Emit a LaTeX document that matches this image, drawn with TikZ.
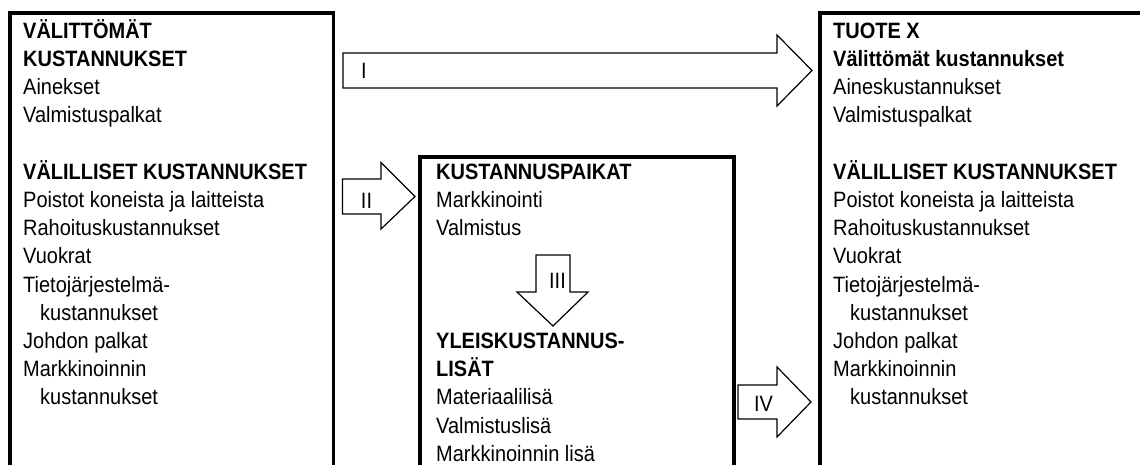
\documentclass[tikz,border=0pt]{standalone}
\usepackage{fontspec}
\setmainfont[FakeStretch=0.9]{Liberation Sans}
\newcommand{\lines}[1]{\begin{tabular}[t]{@{}l@{}}#1\end{tabular}}
\begin{document}
\begin{tikzpicture}[x=1pt,y=-1pt,
  boxline/.style={line width=3.5pt, line cap=butt, line join=miter},
  blockarrow/.style={draw, line width=1.2pt, fill=white, line join=miter},
  txt/.style={anchor=base west, inner sep=0pt, font=\fontsize{22.2}{28.2}\selectfont},
  lbl/.style={anchor=center, inner sep=0pt, font=\fontsize{22.2}{26}\selectfont}]
\useasboundingbox (0,0) rectangle (1140,464);
\clip (0,0) rectangle (1140,464);
\fill[white] (0,0) rectangle (1140,464);
% boxes (open at the bottom edge of the picture)
\draw[boxline] (10,480) -- (10,13) -- (333.5,13) -- (333.5,480);
\draw[boxline] (420,480) -- (420,157) -- (734,157) -- (734,480);
\draw[boxline] (820,480) -- (820,13) -- (1160,13);
% texts
\node[txt] (left) at (23,38.3) {\lines{\textbf{VÄLITTÖMÄT}\\ \textbf{KUSTANNUKSET}\\ Ainekset\\ Valmistuspalkat\\[28.2pt]
 \textbf{VÄLILLISET KUSTANNUKSET}\\ Poistot koneista ja laitteista\\ Rahoituskustannukset\\ Vuokrat\\ Tietojärjestelmä-\\
 \hspace*{17pt}kustannukset\\ Johdon palkat\\ Markkinoinnin\\ \hspace*{17pt}kustannukset}};
\node[txt] (mid1) at (436,179.3) {\lines{\textbf{KUSTANNUSPAIKAT}\\ Markkinointi\\ Valmistus}};
\node[txt] (mid2) at (436,348.5) {\lines{\textbf{YLEISKUSTANNUS-}\\ \textbf{LISÄT}\\ Materiaalilisä\\ Valmistuslisä\\ Markkinoinnin lisä}};
\node[txt] (right) at (833,38.3) {\lines{\textbf{TUOTE X}\\ \textbf{Välittömät kustannukset}\\ Aineskustannukset\\ Valmistuspalkat\\[28.2pt]
 \textbf{VÄLILLISET KUSTANNUKSET}\\ Poistot koneista ja laitteista\\ Rahoituskustannukset\\ Vuokrat\\ Tietojärjestelmä-\\
 \hspace*{17pt}kustannukset\\ Johdon palkat\\ Markkinoinnin\\ \hspace*{17pt}kustannukset}};
% block arrows
\draw[blockarrow] (343,53) -- (777,53) -- (777,35) -- (812,70.5) -- (777,106) -- (777,88) -- (343,88) -- cycle;
\draw[blockarrow] (342.5,179) -- (381,179) -- (381,162.5) -- (415,196.5) -- (381,229) -- (381,214) -- (342.5,214) -- cycle;
\draw[blockarrow] (536,255) -- (570,255) -- (570,292) -- (588,292) -- (553,326) -- (517,292) -- (536,292) -- cycle;
\draw[blockarrow] (738,385) -- (777,385) -- (777,367) -- (811,402) -- (777,437) -- (777,419) -- (738,419) -- cycle;
% arrow labels
\node[lbl] (l1) at (364,70.5) {I};
\node[lbl] (l2) at (366.5,201) {II};
\node[lbl] (l3) at (557.5,280.5) {III};
\node[lbl] (l4) at (763.5,403.5) {IV};
\end{tikzpicture}
\end{document}
